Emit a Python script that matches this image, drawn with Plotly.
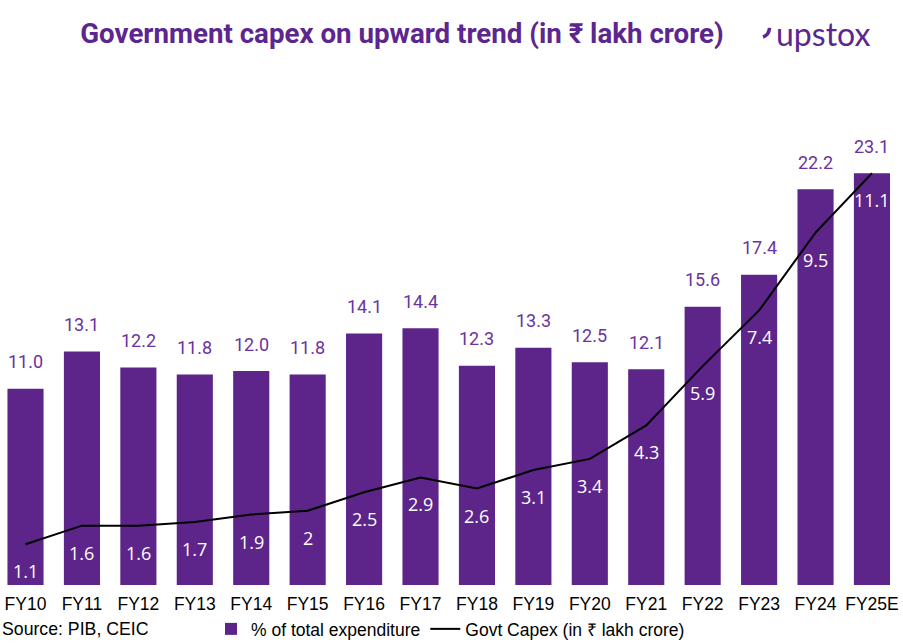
import plotly.graph_objects as go

categories = ["FY10", "FY11", "FY12", "FY13", "FY14", "FY15", "FY16", "FY17",
              "FY18", "FY19", "FY20", "FY21", "FY22", "FY23", "FY24", "FY25E"]
pct_total_exp = [11.0, 13.1, 12.2, 11.8, 12.0, 11.8, 14.1, 14.4,
                 12.3, 13.3, 12.5, 12.1, 15.6, 17.4, 22.2, 23.1]
capex = [1.1, 1.6, 1.6, 1.7, 1.9, 2, 2.5, 2.9,
         2.6, 3.1, 3.4, 4.3, 5.9, 7.4, 9.5, 11.1]
capex_labels = ["1.1", "1.6", "1.6", "1.7", "1.9", "2", "2.5", "2.9",
                "2.6", "3.1", "3.4", "4.3", "5.9", "7.4", "9.5", "11.1"]

PURPLE = "#5d2489"
TITLE_PURPLE = "#5c2690"
W, H = 903, 643
L, R, T, B = 0, 0, 100, 58
plot_h = H - T - B
BASE = H - B  # pixel row of the plot bottom


def px_x(px):
    return px / W


def px_y(py):
    return (BASE - py) / plot_h


fig = go.Figure()
fig.add_trace(go.Bar(
    x=categories, y=pct_total_exp, name="% of total expenditure",
    marker=dict(color=PURPLE, line=dict(width=0)),
))
fig.add_trace(go.Scatter(
    x=categories, y=capex, name="Govt Capex (in ₹ lakh crore)",
    mode="lines", line=dict(color="black", width=2), yaxis="y2",
))

annotations = []
for c, v in zip(categories, pct_total_exp):
    annotations.append(dict(x=c, y=v, xref="x", yref="y", text=f"{v:.1f}",
                            showarrow=False, yshift=27,
                            font=dict(family="Roboto", size=18, color="#6a33a0")))
for c, v, t in zip(categories, capex, capex_labels):
    annotations.append(dict(x=c, y=v, xref="x", yref="y2", text=t,
                            showarrow=False, yshift=-27,
                            font=dict(family="Open Sans", size=18, color="white")))

annotations.append(dict(x=0, xref="paper", xanchor="left", y=px_y(629),
                        yref="paper", yanchor="middle", text="Source: PIB, CEIC",
                        showarrow=False,
                        font=dict(family="Liberation Sans", size=17.7, color="black")))
annotations.append(dict(x=px_x(823), xref="paper", xanchor="center", y=px_y(33),
                        yref="paper", yanchor="middle", text="upstox",
                        showarrow=False,
                        font=dict(family="Lato", size=32, color=TITLE_PURPLE)))

# small hook of the logo
logo_path = (f"M {px_x(763):.4f} {px_y(37):.4f} Q {px_x(769):.4f} {px_y(35):.4f} "
             f"{px_x(769.5):.4f} {px_y(28):.4f}")

fig.update_layout(
    width=W, height=H,
    margin=dict(l=L, r=R, t=T, b=B, autoexpand=False),
    paper_bgcolor="white", plot_bgcolor="white",
    bargap=0.36,
    showlegend=True,
    legend=dict(orientation="h", x=px_x(211), xanchor="left",
                y=px_y(629), yanchor="middle",
                font=dict(family="Liberation Sans", size=17.5, color="black"),
                bgcolor="rgba(0,0,0,0)", itemwidth=30),
    xaxis=dict(range=[-0.452, 15.55], showgrid=False, showline=False, zeroline=False,
               ticks="", ticklabelstandoff=6, automargin=False,
               tickfont=dict(family="Liberation Sans", size=17.5, color="black")),
    yaxis=dict(range=[0, plot_h / 17.83], visible=False, showgrid=False),
    yaxis2=dict(range=[0, plot_h / 37.1], overlaying="y", side="right",
                visible=False, showgrid=False),
    title=dict(text="<b>Government capex on upward trend (in ₹ lakh crore)</b>",
               x=px_x(402), xanchor="center", y=1 - 33 / H, yanchor="middle",
               font=dict(family="Roboto", size=27.7, color=TITLE_PURPLE)),
    annotations=annotations,
    shapes=[dict(type="path", xref="paper", yref="paper", path=logo_path,
                 line=dict(color=TITLE_PURPLE, width=3.5))],
)

fig.write_html("out.html", config={"displayModeBar": False},
               post_script="document.body.style.margin='0';")
